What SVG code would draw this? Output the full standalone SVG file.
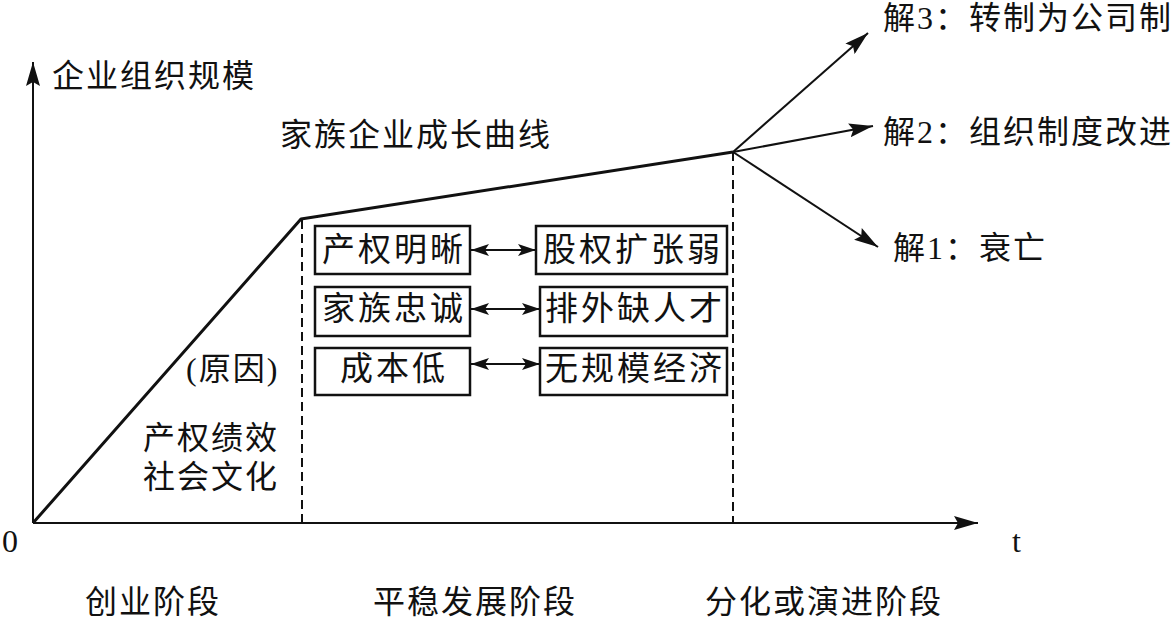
<svg xmlns="http://www.w3.org/2000/svg" width="1174" height="618" viewBox="0 0 1174 618">
<style>
text{font-family:"Liberation Serif","Noto Sans CJK SC",serif;font-size:32px;letter-spacing:2px;fill:#111}
.box rect{fill:#fff;stroke:#111;stroke-width:2.5}
.bt{font-size:33px;letter-spacing:3px;text-anchor:middle}
.ax{stroke:#111;stroke-width:2;fill:none}
.cv{stroke:#111;stroke-width:3;fill:none;stroke-linejoin:round}
.dash{stroke:#111;stroke-width:2;stroke-dasharray:9 5;fill:none}
.ar{stroke:#111;stroke-width:2;fill:none}
</style>
<defs>
<marker id="big" markerUnits="userSpaceOnUse" markerWidth="26" markerHeight="14" refX="24" refY="7" orient="auto"><path d="M0,0 L24,7 L0,14 L4,7 Z" fill="#111"/></marker>
<marker id="sm" markerUnits="userSpaceOnUse" markerWidth="20" markerHeight="14" refX="18" refY="7" orient="auto-start-reverse"><path d="M0,1 L18,7 L0,13 L4,7 Z" fill="#111"/></marker>
</defs>
<g id="connectors">
<line class="ax" x1="33" y1="523" x2="33" y2="62" marker-end="url(#big)"/>
<line class="ax" x1="33" y1="523" x2="978" y2="523" marker-end="url(#big)"/>
<polyline class="cv" points="33,523 301,219 733,152"/>
<line class="dash" x1="302" y1="220" x2="302" y2="523"/>
<line class="dash" x1="733" y1="152" x2="733" y2="523"/>
<line class="ar" x1="733" y1="152" x2="868" y2="33" marker-end="url(#big)"/>
<line class="ar" x1="733" y1="152" x2="873" y2="126" marker-end="url(#big)"/>
<line class="ar" x1="733" y1="152" x2="878" y2="247" marker-end="url(#big)"/>
<line class="ar" x1="471" y1="250" x2="536" y2="250" marker-start="url(#sm)" marker-end="url(#sm)"/>
<line class="ar" x1="471" y1="309" x2="540" y2="309" marker-start="url(#sm)" marker-end="url(#sm)"/>
<line class="ar" x1="471" y1="364" x2="540" y2="364" marker-start="url(#sm)" marker-end="url(#sm)"/>
</g>
<g id="axis-labels">
<text x="52" y="87">企业组织规模</text>
<text x="2" y="552">0</text>
<text x="1012" y="552">t</text>
</g>
<g id="curve-label"><text x="280" y="146">家族企业成长曲线</text></g>
<g id="sol3"><text x="883" y="29">解3：转制为公司制</text></g>
<g id="sol2"><text x="883" y="143">解2：组织制度改进</text></g>
<g id="sol1"><text x="893" y="259">解1：衰亡</text></g>
<g id="b1" class="box"><rect x="315" y="226" width="155" height="48"/><text class="bt" x="394" y="261">产权明晰</text></g>
<g id="b2" class="box"><rect x="536" y="226" width="191" height="48"/><text class="bt" x="633" y="261">股权扩张弱</text></g>
<g id="b3" class="box"><rect x="315" y="287" width="155" height="49"/><text class="bt" x="394" y="320">家族忠诚</text></g>
<g id="b4" class="box"><rect x="540" y="287" width="187" height="49"/><text class="bt" x="635" y="320">排外缺人才</text></g>
<g id="b5" class="box"><rect x="315" y="348" width="155" height="47"/><text class="bt" x="394" y="380">成本低</text></g>
<g id="b6" class="box"><rect x="540" y="348" width="187" height="47"/><text class="bt" x="635" y="380">无规模经济</text></g>
<g id="cause">
<text x="186" y="380">(原因)</text>
<text x="143" y="449">产权绩效</text>
<text x="143" y="488">社会文化</text>
</g>
<g id="stages">
<text x="85" y="613">创业阶段</text>
<text x="373" y="613">平稳发展阶段</text>
<text x="705" y="613">分化或演进阶段</text>
</g>
</svg>
